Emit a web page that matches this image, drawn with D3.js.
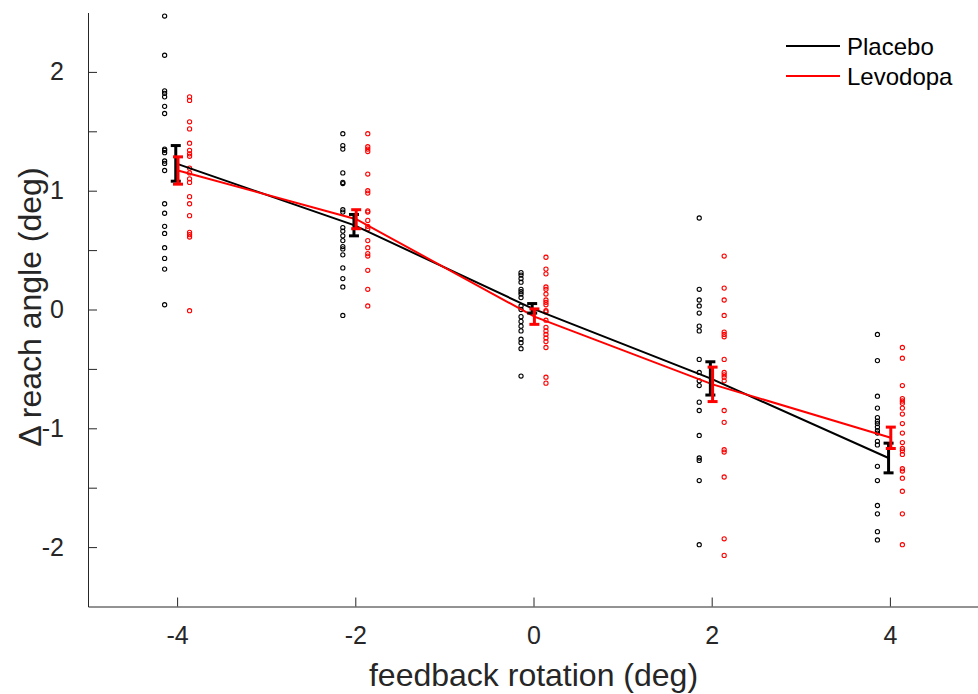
<!DOCTYPE html>
<html>
<head>
<meta charset="utf-8">
<script src="https://cdn.jsdelivr.net/npm/d3@7"></script>
<style>
  body { margin: 0; background: #fff; }
  text { font-family: "Liberation Sans", Arial, Helvetica, sans-serif; fill: #262626; }
</style>
</head>
<body>
<script>
// rotation conditions
var rotations = [-4, -2, 0, 2, 4];

// per-subject values
var placeboPoints = [
  [2.47, 2.14, 1.84, 1.82, 1.79, 1.71, 1.65, 1.35, 1.34, 1.32, 1.25, 1.23, 1.17, 0.89, 0.81, 0.70, 0.64, 0.52, 0.43, 0.34, 0.04],
  [1.48, 1.38, 1.35, 1.15, 1.07, 1.06, 0.84, 0.82, 0.69, 0.66, 0.62, 0.58, 0.53, 0.51, 0.46, 0.35, 0.26, 0.19, -0.05],
  [0.31, 0.29, 0.26, 0.23, 0.17, 0.15, 0.13, 0.10, 0.03, 0.00, -0.06, -0.10, -0.14, -0.18, -0.25, -0.28, -0.33, -0.56],
  [0.77, 0.17, 0.08, 0.03, -0.03, -0.14, -0.18, -0.42, -0.53, -0.60, -0.64, -0.78, -0.85, -1.06, -1.25, -1.27, -1.44, -1.98],
  [-0.21, -0.43, -0.73, -0.83, -0.91, -0.94, -0.96, -0.99, -1.02, -1.04, -1.11, -1.14, -1.32, -1.44, -1.65, -1.72, -1.87, -1.94]
];
var levodopaPoints = [
  [1.79, 1.76, 1.58, 1.52, 1.40, 1.34, 1.31, 1.29, 1.19, 1.15, 1.10, 1.07, 0.95, 0.89, 0.79, 0.65, 0.63, 0.61, -0.01],
  [1.48, 1.37, 1.35, 1.33, 1.14, 1.00, 0.98, 0.83, 0.82, 0.75, 0.70, 0.68, 0.58, 0.52, 0.47, 0.45, 0.33, 0.17, 0.03],
  [0.44, 0.34, 0.30, 0.19, 0.17, 0.13, 0.08, 0.06, 0.04, -0.01, -0.02, -0.09, -0.15, -0.18, -0.21, -0.24, -0.27, -0.32, -0.57, -0.62],
  [0.45, 0.18, 0.08, -0.05, -0.19, -0.21, -0.23, -0.42, -0.53, -0.55, -0.57, -0.60, -0.85, -0.95, -1.18, -1.20, -1.41, -1.93, -2.07],
  [-0.32, -0.41, -0.64, -0.75, -0.77, -0.79, -0.83, -0.88, -0.96, -1.04, -1.12, -1.17, -1.19, -1.22, -1.34, -1.36, -1.42, -1.53, -1.72, -1.98]
];

// group means and standard errors
var placeboMean = [1.23, 0.71, 0.01, -0.58, -1.25];
var placeboSE   = [0.15, 0.09, 0.04, 0.14, 0.125];
var levodopaMean = [1.17, 0.76, -0.06, -0.63, -1.08];
var levodopaSE   = [0.115, 0.08, 0.065, 0.145, 0.09];

var xTicks = [-4, -2, 0, 2, 4];
var yTicks = [-2, -1.5, -1, -0.5, 0, 0.5, 1, 1.5, 2];
var yLabels = [-2, -1, 0, 1, 2];

var width = 978, height = 694;

var x = d3.scaleLinear().domain([-5, 5]).range([88, 979]);
var y = d3.scaleLinear().domain([-2.5, 2.5]).range([606.5, 12.5]);

var svg = d3.select("body").append("svg")
    .attr("width", width)
    .attr("height", height);

// axes (MATLAB style: ticks inside, no box), plain hyphen for minus
var xAxis = svg.append("g")
    .attr("transform", "translate(0," + y(-2.5) + ")")
    .call(d3.axisBottom(x).tickValues(xTicks).tickSize(-9).tickPadding(20)
      .tickFormat(function(d) { return String(d); }).tickSizeOuter(0));
var yAxis = svg.append("g")
    .attr("transform", "translate(" + x(-5) + ",0)")
    .call(d3.axisLeft(y).tickValues(yTicks).tickSize(-9).tickPadding(24)
      .tickFormat(function(d) { return yLabels.indexOf(d) >= 0 ? String(d) : ""; })
      .tickSizeOuter(0));

[xAxis, yAxis].forEach(function(a) {
  a.select(".domain").attr("stroke", "#262626").attr("stroke-width", 1);
  a.selectAll(".tick line").attr("stroke", "#262626").attr("stroke-width", 1);
  a.selectAll(".tick text").attr("font-size", 25).attr("fill", "#262626")
    .style("font-family", "'Liberation Sans', Arial, sans-serif");
});
xAxis.selectAll(".tick text").attr("dy", "0.71em");

// scatter of subjects
function drawPoints(data, offset, color) {
  var flat = [];
  data.forEach(function(col, i) {
    col.forEach(function(v) { flat.push({ r: rotations[i], v: v }); });
  });
  svg.append("g").selectAll("circle")
    .data(flat)
    .enter()
    .append("circle")
    .attr("cx", function(d) { return x(d.r + offset); })
    .attr("cy", function(d) { return y(d.v); })
    .attr("r", 2.1)
    .attr("fill", "none")
    .attr("stroke", color)
    .attr("stroke-width", 1.1);
}
drawPoints(placeboPoints, -0.14, "#000");
drawPoints(levodopaPoints, 0.14, "#ff0000");

// mean lines
function drawLine(means, offset, color) {
  var line = d3.line()
    .x(function(d, i) { return x(rotations[i] + offset); })
    .y(function(d) { return y(d); });
  svg.append("path")
    .datum(means)
    .attr("d", line)
    .attr("fill", "none")
    .attr("stroke", color)
    .attr("stroke-width", 2);
}
drawLine(placeboMean, -0.015, "#000");
drawLine(levodopaMean, 0.01, "#ff0000");

// error bars
function drawErr(means, se, offset, color) {
  var g = svg.append("g").attr("stroke", color).attr("stroke-width", 3).attr("fill", "none");
  means.forEach(function(m, i) {
    var cx = x(rotations[i] + offset);
    var top = y(m + se[i]), bot = y(m - se[i]);
    g.append("line").attr("x1", cx).attr("x2", cx).attr("y1", top).attr("y2", bot);
    g.append("line").attr("x1", cx - 5).attr("x2", cx + 5).attr("y1", top).attr("y2", top);
    g.append("line").attr("x1", cx - 5).attr("x2", cx + 5).attr("y1", bot).attr("y2", bot);
  });
}
drawErr(placeboMean, placeboSE, -0.015, "#000");
drawErr(levodopaMean, levodopaSE, 0.01, "#ff0000");

// axis labels
svg.append("text")
    .attr("x", x(0))
    .attr("y", 686)
    .attr("text-anchor", "middle")
    .attr("font-size", 32)
    .text("feedback rotation (deg)");

svg.append("text")
    .attr("transform", "translate(41," + y(0.02) + ") rotate(-90)")
    .attr("text-anchor", "middle")
    .attr("font-size", 32)
    .text("\u0394 reach angle (deg)");

// legend
var legend = [
  { name: "Placebo", color: "#000" },
  { name: "Levodopa", color: "#ff0000" }
];
var lg = svg.append("g");
legend.forEach(function(d, i) {
  var ly = 46 + i * 30;
  lg.append("line").attr("x1", 786).attr("x2", 840).attr("y1", ly).attr("y2", ly)
    .attr("stroke", d.color).attr("stroke-width", 2);
  lg.append("text").attr("x", 847).attr("y", ly + 8.5)
    .attr("font-size", 24).attr("fill", "#000").style("fill", "#000")
    .text(d.name);
});
</script>
</body>
</html>
